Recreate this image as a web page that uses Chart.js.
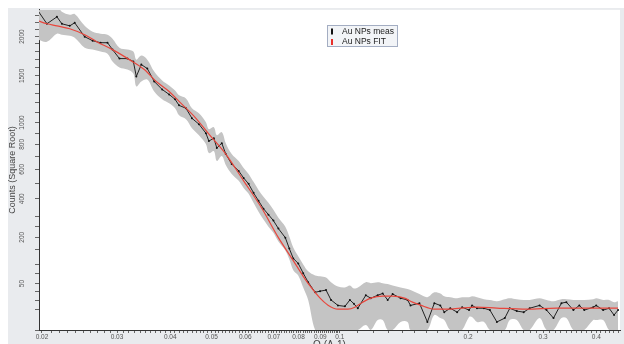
<!DOCTYPE html>
<html>
<head>
<meta charset="utf-8">
<script src="https://cdn.jsdelivr.net/npm/chart.js@4.4.1/dist/chart.umd.min.js"></script>
<style>
  html, body { margin: 0; padding: 0; width: 624px; height: 344px; overflow: hidden; background: #fff; }
  #wrap { width: 624px; height: 356px; }
</style>
</head>
<body>
<div id="wrap"><canvas id="saxsChart"></canvas></div>
<script>
// 測定データ（Q と Counts）
const qMeas = [
  0.01958, 0.02054, 0.02168, 0.02227, 0.02324, 0.02387, 0.02519, 0.02630, 0.02745, 0.02850,
  0.02928, 0.03040, 0.03173, 0.03277, 0.03330, 0.03421, 0.03533, 0.03668, 0.03829, 0.03976,
  0.04106, 0.04195, 0.04355, 0.04498, 0.04671, 0.04850, 0.04929, 0.05063, 0.05145, 0.05285,
  0.05400, 0.05576, 0.05790, 0.05947, 0.06109, 0.06274, 0.06445, 0.06620, 0.06801, 0.06986,
  0.07176, 0.07450, 0.07612, 0.07777, 0.07988, 0.08206, 0.08429, 0.08751, 0.08989, 0.09283,
  0.09536, 0.09901, 0.10281, 0.10561, 0.10790, 0.11024, 0.11508, 0.11821, 0.12274, 0.12608,
  0.12952, 0.13304, 0.13889, 0.14420, 0.14654, 0.15379, 0.16054, 0.16668, 0.17214, 0.17588,
  0.18163, 0.18854, 0.19366, 0.20108, 0.20434, 0.20990, 0.21794, 0.22508, 0.23370, 0.24396,
  0.25060, 0.26020, 0.27016, 0.27900, 0.29436, 0.30566, 0.31732, 0.33124, 0.34026, 0.35330,
  0.36486, 0.37478, 0.39334, 0.39972, 0.41504, 0.42858, 0.44024, 0.44980
];
const countsMeas = [
  2366, 2178, 2278, 2178, 2149, 2192, 1998, 1944, 1917, 1917,
  1826, 1711, 1711, 1674, 1493, 1636, 1588, 1435, 1344, 1289,
  1236, 1172, 1142, 1041, 984, 900, 829, 855, 769, 811,
  719, 640, 588, 537, 496, 437, 388, 342, 309, 278,
  239, 198, 154, 119, 103, 75, 53, 33, 35, 37,
  21, 14, 13, 21, 16, 11, 28, 23.5, 28, 31,
  21, 30, 23.5, 21, 14, 16.7, 1.5, 16.7, 14, 7.4,
  11, 7.4, 12.1, 9.2, 14, 11, 11, 9.2, 1.5, 3.3,
  11, 8.3, 7.4, 11, 14, 9.2, 3.3, 16.7, 18, 9.2,
  14, 9.2, 12.1, 14, 9.2, 11, 5.2, 9.2
];
// 誤差帯（上限・下限）
const bandUpper = [
  2577, 2380, 2440, 2351, 2307, 2321, 2149, 2066, 2039, 2025,
  1971, 1852, 1826, 1800, 1698, 1749, 1698, 1552, 1446, 1389,
  1333, 1279, 1246, 1142, 1091, 1003, 937, 955, 882, 909,
  811, 719, 663, 610, 566, 510, 456, 412, 376, 336,
  293, 248, 203, 158, 126, 100, 80, 69, 67, 64,
  53, 44, 42, 46, 40, 42, 53, 51, 53, 51,
  49, 46, 42, 39, 37, 30, 25, 33, 31, 26.5,
  25, 23.5, 25, 25, 26.5, 25, 22, 21, 19.3, 22,
  23.5, 22, 21, 21, 23.5, 21, 19.3, 22, 22, 21,
  21, 21, 22, 23.5, 21, 21, 18, 19.3
];
const bandLower = [
  1957, 1931, 2039, 2025, 2011, 1985, 1852, 1826, 1800, 1774,
  1674, 1600, 1576, 1528, 1378, 1435, 1458, 1322, 1236, 1193,
  1142, 1071, 1032, 946, 882, 803, 727, 744, 663, 703,
  633, 566, 517, 469, 431, 376, 325, 283, 248, 220,
  182, 147, 116, 83, 69, 42, 21, 0, 0, 0,
  0, 0, 0, 0, 0, 0, 0.6, 0, 2.3, 2.3,
  0, 0, 1.5, 1.5, 0, 0, 0, 5.2, 3.3, 2.3,
  0, 0, 0, 3.9, 3.9, 1.5, 1.5, 0, 0, 0,
  2.3, 2.3, 0, 0, 3.3, 0, 0, 3.3, 3.3, 0,
  0, 0, 2.3, 2.3, 2.3, 0, 0, 0
];
// フィット曲線
const qFit = [
  0.01958, 0.02054, 0.02168, 0.02324, 0.02519, 0.02687, 0.02928, 0.03207, 0.03477, 0.03708,
  0.03976, 0.04195, 0.04596, 0.04929, 0.05400, 0.05947, 0.06550, 0.07176, 0.07777, 0.08206,
  0.08566, 0.08989, 0.09383, 0.09901, 0.10448, 0.10848, 0.11324, 0.11821, 0.12608, 0.13304,
  0.14190, 0.14812, 0.15462, 0.16668, 0.17873, 0.19160, 0.20990, 0.23370, 0.27454, 0.32246,
  0.37882, 0.44980
];
const countsFit = [
  2220, 2178, 2149, 2108, 2025, 1931, 1826, 1698, 1576, 1435,
  1322, 1214, 1041, 891, 719, 517, 347, 198, 112, 67,
  42, 23.5, 14.3, 10.1, 10.1, 12.1, 18, 23.5, 26.5, 26.5,
  23.5, 18, 14.3, 10.1, 10.1, 11.1, 12.1, 11.1, 10.1, 11.1,
  11.1, 11.1
];
// 目盛りラベル
const xTickLabels = [0.02, 0.03, 0.04, 0.05, 0.06, 0.07, 0.08, 0.09, 0.1, 0.2, 0.3, 0.4];
const yTickLabels = [50, 200, 400, 600, 800, 1000, 1500, 2000];
const yMinorTicks = [10, 20, 35, 75, 100, 150, 250, 300, 500, 700, 900, 1100, 1200, 1300, 1400,
  1600, 1700, 1800, 1900, 2100, 2200, 2300];

const toPoints = (xs, ys) => xs.map((x, i) => ({ x: x, y: ys[i] }));

// 平方根スケール
class SqrtScale extends Chart.LinearScale {
  getPixelForValue(value) {
    const a = Math.sqrt(Math.max(this.min, 0));
    const b = Math.sqrt(this.max);
    return this.getPixelForDecimal((Math.sqrt(Math.max(value, 0)) - a) / (b - a));
  }
  getValueForPixel(pixel) {
    const a = Math.sqrt(Math.max(this.min, 0));
    const b = Math.sqrt(this.max);
    const v = a + this.getDecimalForPixel(pixel) * (b - a);
    return v * v;
  }
}
SqrtScale.id = 'sqrt';
SqrtScale.defaults = Chart.LinearScale.defaults;
Chart.register(SqrtScale);

// 背景（灰色の枠と白いプロット領域）
const panelPlugin = {
  id: 'panel',
  beforeDraw(chart) {
    const { ctx, chartArea: a, width, height } = chart;
    ctx.save();
    ctx.fillStyle = '#ffffff';
    ctx.fillRect(0, 0, width, height);
    ctx.fillStyle = '#e9ebee';
    ctx.fillRect(8, 8, width - 8, height - 8);
    ctx.fillStyle = '#ffffff';
    ctx.fillRect(a.left, a.top, a.right - a.left, a.bottom - a.top);
    ctx.restore();
  }
};

// 凡例ボックス
const boxLegend = {
  id: 'boxLegend',
  afterDraw(chart) {
    const ctx = chart.ctx;
    const items = chart.data.datasets.filter(d => d.legendColor);
    const x = 327, y = 25, w = 71, h = 22;
    ctx.save();
    ctx.fillStyle = '#f2f4f7';
    ctx.fillRect(x, y, w, h);
    ctx.strokeStyle = '#a3adc2';
    ctx.lineWidth = 1;
    ctx.strokeRect(x + 0.5, y + 0.5, w - 1, h - 1);
    ctx.font = '8.5px "Liberation Sans", Arial, sans-serif';
    ctx.textBaseline = 'middle';
    items.forEach((d, i) => {
      const cy = y + 6.5 + i * 10.5;
      ctx.fillStyle = d.legendColor;
      ctx.fillRect(x + 4, cy - 3, 2, 6);
      ctx.fillStyle = '#1a1a1a';
      ctx.fillText(d.label, x + 15, cy);
    });
    ctx.restore();
  }
};

Chart.defaults.font.family = '"Liberation Sans", Arial, sans-serif';
Chart.defaults.color = '#555';

new Chart(document.getElementById('saxsChart'), {
  type: 'line',
  data: {
    datasets: [
      {
        label: 'Au NPs meas',
        data: toPoints(qMeas, countsMeas),
        borderColor: '#222',
        borderWidth: 1,
        pointRadius: 1,
        pointBackgroundColor: '#111',
        pointBorderWidth: 0,
        tension: 0,
        legendColor: '#111',
        order: 1
      },
      {
        label: 'Au NPs FIT',
        data: toPoints(qFit, countsFit),
        borderColor: '#e8463c',
        borderWidth: 1.2,
        pointRadius: 0,
        cubicInterpolationMode: 'monotone',
        legendColor: '#e8302a',
        order: 0
      },
      {
        label: 'upper',
        data: toPoints(qMeas, bandUpper),
        borderWidth: 0,
        pointRadius: 0,
        tension: 0.35,
        backgroundColor: 'rgb(196,196,196)',
        fill: '+1',
        order: 2
      },
      {
        label: 'lower',
        data: toPoints(qMeas, bandLower),
        borderWidth: 0,
        pointRadius: 0,
        tension: 0.35,
        fill: false,
        order: 3
      }
    ]
  },
  options: {
    responsive: true,
    maintainAspectRatio: false,
    animation: false,
    layout: { padding: { top: 8, right: 0, left: 0, bottom: 0 } },
    plugins: {
      legend: { display: false },
      tooltip: { enabled: false }
    },
    scales: {
      x: {
        type: 'logarithmic',
        bounds: 'data',
        min: 0.01968,
        max: 0.4546,
        afterBuildTicks: (scale) => {
          const vals = [];
          for (let i = 20; i <= 100; i++) vals.push(i / 1000);
          for (let i = 11; i <= 45; i++) vals.push(i / 100);
          scale.ticks = vals.map(v => ({ value: v }));
        },
        afterFit: (scale) => { scale.height = 26; },
        ticks: {
          autoSkip: false,
          maxRotation: 0,
          minRotation: 0,
          padding: 0,
          font: { size: 6.5 },
          color: '#555',
          callback: (v) => xTickLabels.some(t => Math.abs(t - v) < 1e-9) ? String(v) : ''
        },
        grid: { drawOnChartArea: false, drawTicks: true, tickLength: 3, color: '#666' },
        border: { display: true, color: '#333', width: 1 },
        title: {
          display: true,
          text: 'Q (A-1)',
          font: { size: 10 },
          color: '#444',
          padding: { top: 0, bottom: 5 }
        }
      },
      y: {
        type: 'sqrt',
        bounds: 'data',
        min: 0,
        max: 2380,
        afterBuildTicks: (scale) => {
          const vals = [0].concat(yMinorTicks, yTickLabels).sort((a, b) => a - b);
          scale.ticks = vals.map(v => ({ value: v }));
        },
        afterFit: (scale) => { scale.width = 39; },
        ticks: {
          autoSkip: false,
          minRotation: 90,
          maxRotation: 90,
          crossAlign: 'center',
          padding: 6,
          font: { size: 6.5 },
          color: '#555',
          callback: (v) => yTickLabels.includes(v) ? String(v) : ''
        },
        grid: { drawOnChartArea: false, drawTicks: true, tickLength: 4, color: '#666' },
        border: { display: true, color: '#333', width: 1 },
        title: {
          display: true,
          text: 'Counts (Square Root)',
          font: { size: 9 },
          color: '#444',
          padding: { top: 7, bottom: 0 }
        }
      }
    }
  },
  plugins: [panelPlugin, boxLegend]
});
</script>
</body>
</html>
